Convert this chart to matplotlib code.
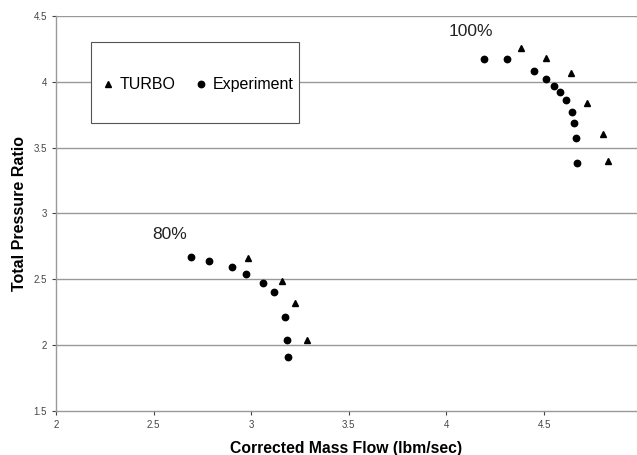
import numpy as np
import matplotlib.pyplot as plt
from matplotlib.patches import Rectangle

# 100% speed line
exp100_x = [4.19, 4.31, 4.45, 4.51, 4.55, 4.58, 4.61, 4.645, 4.654, 4.662, 4.67]
exp100_y = [4.17, 4.17, 4.08, 4.02, 3.97, 3.92, 3.86, 3.77, 3.69, 3.57, 3.38]
turbo100_x = [4.38, 4.51, 4.64, 4.72, 4.80, 4.83]
turbo100_y = [4.26, 4.18, 4.07, 3.84, 3.60, 3.40]

# 80% speed line
exp80_x = [2.69, 2.785, 2.90, 2.975, 3.06, 3.115, 3.173, 3.182, 3.19]
exp80_y = [2.67, 2.64, 2.59, 2.54, 2.47, 2.40, 2.21, 2.04, 1.91]
turbo80_x = [2.985, 3.16, 3.226, 3.286]
turbo80_y = [2.66, 2.49, 2.32, 2.04]

yticks = [1.5, 2, 2.5, 3, 3.5, 4, 4.5]
xticks = [2, 2.5, 3, 3.5, 4, 4.5]

plt.rcParams['font.family'] = ['Liberation Sans', 'DejaVu Sans']

fig = plt.figure(figsize=(6.37, 4.55), dpi=100)
ax = fig.add_axes([0.088, 0.097, 0.912, 0.868])

for y in yticks[1:]:
    ax.axhline(y=y, color="#999999", linewidth=1.0, zorder=0)

ax.plot(turbo100_x, turbo100_y, "^", color="black", markersize=5, label="TURBO", zorder=3)
ax.plot(exp100_x, exp100_y, "o", color="black", markersize=4.6, label="Experiment", zorder=3)
ax.plot(turbo80_x, turbo80_y, "^", color="black", markersize=5, zorder=3)
ax.plot(exp80_x, exp80_y, "o", color="black", markersize=4.6, zorder=3)

ax.text(4.126, 4.38, "100%", fontsize=12.5, ha="center", va="center", color="#222222")
ax.text(2.581, 2.84, "80%", fontsize=12.5, ha="center", va="center", color="#222222")

ax.set_xlim(2, 4.976)
ax.set_ylim(1.5, 4.5)
ax.set_xticks(xticks)
ax.set_xticklabels([str(t) for t in xticks])
ax.set_yticks(yticks)
ax.set_yticklabels([str(t) for t in yticks])
ax.tick_params(labelsize=7, colors="#444444", length=3, direction="out", width=0.8)

for s in ["top", "right"]:
    ax.spines[s].set_visible(False)
for s in ["left", "bottom"]:
    ax.spines[s].set_color("#999999")
    ax.spines[s].set_linewidth(1.0)

ax.set_xlabel("Corrected Mass Flow (lbm/sec)", fontsize=11.3, fontweight="bold", labelpad=8)
ax.set_ylabel("Total Pressure Ratio", fontsize=11.5, fontweight="bold", labelpad=5)

# legend box
box = Rectangle((0.060, 0.729), 0.358, 0.205, transform=ax.transAxes,
                facecolor="white", edgecolor="#555555", linewidth=0.8, zorder=4)
ax.add_patch(box)

leg = ax.legend(loc="center left", bbox_to_anchor=(0.053, 0.826), ncol=2, fontsize=11.5,
                frameon=False, handlelength=0.8, handletextpad=0.35,
                columnspacing=1.2, borderpad=0.4)
leg.set_zorder(5)

fig.savefig("out.png", dpi=100)
